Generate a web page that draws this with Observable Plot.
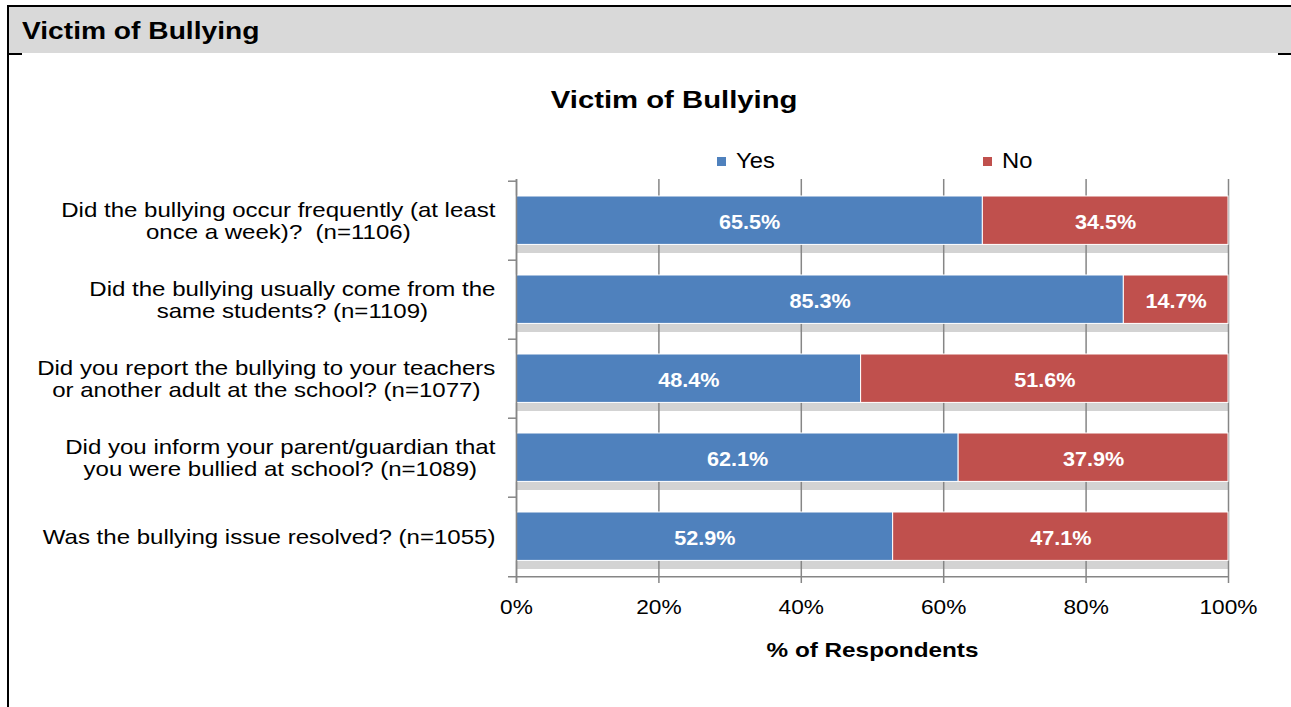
<!DOCTYPE html>
<html>
<head>
<meta charset="utf-8">
<script src="https://cdn.jsdelivr.net/npm/d3@7"></script>
<script src="https://cdn.jsdelivr.net/npm/@observablehq/plot@0.6"></script>
<style>
  body { margin: 0; background: #fff; font-family: "Liberation Sans", Arial, sans-serif; }
  #wrap { position: relative; width: 1291px; height: 707px; overflow: hidden; background: #fff; }
  .abs { position: absolute; }
  #band { left: 9px; top: 7px; width: 1282px; height: 46px; background: #d9d9d9; }
  #topline { left: 7px; top: 5px; width: 1284px; height: 2px; background: #000; }
  #leftline { left: 7px; top: 5px; width: 2px; height: 702px; background: #000; }
  #lstub { left: 7px; top: 53px; width: 15px; height: 2px; background: #000; }
  #rstub { left: 1278px; top: 53px; width: 13px; height: 2px; background: #000; }
  #header { left: 22px; top: 19px; font-size: 24px; line-height: 24px; font-weight: bold; color: #000; white-space: nowrap; }
  #header span { display: inline-block; transform: scaleX(1.174); transform-origin: left center; }
  #title { left: 0; width: 1349px; text-align: center; top: 88px; font-size: 24px; line-height: 24px; font-weight: bold; color: #000; white-space: nowrap; }
  #title span { display: inline-block; transform: scaleX(1.22); transform-origin: center center; }
  .sw { width: 9px; height: 9px; top: 157px; }
  .lt { top: 150px; font-size: 22px; line-height: 22px; color: #000; white-space: nowrap; transform: scaleX(1.08); transform-origin: left center; }
  #chart { left: 0; top: 170px; }
</style>
</head>
<body>
<div id="wrap">
  <div id="band" class="abs"></div>
  <div id="topline" class="abs"></div>
  <div id="leftline" class="abs"></div>
  <div id="lstub" class="abs"></div>
  <div id="rstub" class="abs"></div>
  <div id="header" class="abs"><span>Victim of Bullying</span></div>
  <div id="title" class="abs"><span>Victim of Bullying</span></div>
  <div id="legend"></div>
  <div id="chart" class="abs"></div>
</div>
<script>
// ---- data ----
const categories = [
  "Did the bullying occur frequently (at least\nonce a week)?  (n=1106)",
  "Did the bullying usually come from the\nsame students? (n=1109)",
  "Did you report the bullying to your teachers\nor another adult at the school? (n=1077)",
  "Did you inform your parent/guardian that\nyou were bullied at school? (n=1089)",
  "Was the bullying issue resolved? (n=1055)"
];
const yesValues = [65.5, 85.3, 48.4, 62.1, 52.9];
const noValues = [34.5, 14.7, 51.6, 37.9, 47.1];
const answers = ["Yes", "No"];
const answerColors = ["#4f81bd", "#c0504d"];
const xTicks = [0, 20, 40, 60, 80, 100];
const xTickLabels = ["0%", "20%", "40%", "60%", "80%", "100%"];
const xLabel = "% of Respondents";

// ---- legend (HTML, above the SVG) ----
const legendPos = [{sw: 717, tx: 736}, {sw: 983, tx: 1002}];
const legend = document.getElementById("legend");
answers.forEach((a, i) => {
  const s = document.createElement("div");
  s.className = "abs sw";
  s.style.left = legendPos[i].sw + "px";
  s.style.background = answerColors[i];
  legend.appendChild(s);
  const t = document.createElement("div");
  t.className = "abs lt";
  t.style.left = legendPos[i].tx + "px";
  t.textContent = a;
  legend.appendChild(t);
});

// ---- chart ----
const table = categories.flatMap((c, i) => [
  {cat: c, answer: answers[0], value: yesValues[i]},
  {cat: c, answer: answers[1], value: noValues[i]}
]);

const W = 1291, H = 537;
const mL = 516, mR = 63, mT = 9, mB = 130;
const plotW = W - mL - mR, plotH = H - mT - mB;
const halfBand = plotH / categories.length / 2;
const gray = "#868686";
const FONT = "'Liberation Sans', Arial, sans-serif";

const catFont = 21, catScale = 1.145, catGap = 21;
const tickScale = 1.08, axisTitleScale = 1.215, barLabelScale = 1.03;

// measure label widths so multi-line labels are centred as a block, right-aligned to the axis
const ctx = document.createElement("canvas").getContext("2d");
ctx.font = `${catFont}px ${FONT}`;
const catWidth = c => Math.max(...c.split("\n").map(l => ctx.measureText(l).width)) * catScale;

const catMarks = categories.map(c =>
  Plot.text([c], {y: d => d, text: d => d, frameAnchor: "left", textAnchor: "middle",
    dx: -(catGap + catWidth(c) / 2), fontSize: catFont, lineHeight: 1.05, fill: "#000"})
);

const chart = Plot.plot({
  width: W,
  height: H,
  marginLeft: mL,
  marginRight: mR,
  marginTop: mT,
  marginBottom: mB,
  style: {fontFamily: FONT, background: "transparent", overflow: "visible"},
  x: {domain: [0, 100], axis: null},
  y: {domain: categories, padding: 0, axis: null},
  color: {domain: answers, range: answerColors},
  marks: [
    // shadow under each bar
    Plot.barX(categories, {y: d => d, x1: xTicks[0], x2: xTicks[xTicks.length - 1], fill: "#d3d3d3", insetTop: 64, insetBottom: 7}),
    // vertical gridlines
    Plot.ruleX(xTicks, {x: d => d, stroke: gray, strokeWidth: 1.5}),
    // stacked bars
    Plot.barX(table, Plot.stackX({y: "cat", x: "value", fill: "answer", insetTop: 15, insetBottom: 15.6, stroke: "white", strokeWidth: 1})),
    // bar value labels  (text mark #0)
    Plot.text(table, Plot.stackX({y: "cat", x: "value", text: d => d.value.toFixed(1) + "%", fill: "white", fontWeight: "bold", fontSize: 21, dy: 1})),
    // y axis line
    Plot.ruleX([xTicks[0]], {x: d => d, stroke: gray, strokeWidth: 1.5, insetBottom: -6}),
    // y axis boundary ticks
    Plot.ruleY(categories, {y: d => d, dy: -halfBand, stroke: gray, strokeWidth: 1.5, insetLeft: -8, insetRight: plotW}),
    Plot.ruleY([categories[categories.length - 1]], {y: d => d, dy: halfBand, stroke: gray, strokeWidth: 1.5, insetLeft: -8}),
    // x tick marks
    Plot.ruleX(xTicks, {x: d => d, stroke: gray, strokeWidth: 1.5, insetTop: plotH, insetBottom: -6}),
    // x tick labels  (text mark #1)
    Plot.text(xTicks, {x: d => d, text: (d, i) => xTickLabels[i], frameAnchor: "bottom", dy: 36, fontSize: 21, fill: "#000"}),
    // x axis title  (text mark #2)
    Plot.text([xLabel], {text: d => d, frameAnchor: "bottom", dy: 79, fontSize: 20, fontWeight: "bold", fill: "#000"}),
    // category labels  (text marks #3..)
    ...catMarks
  ]
});

// widen glyphs horizontally to match the reference's rendering
function stretchGroup(g, s) {
  g.querySelectorAll("text").forEach(t => {
    let tr = t.getAttribute("transform") || "";
    const x = t.getAttribute("x");
    if (x !== null && isFinite(+x) && +x !== 0) {
      tr += ` translate(${+x},0)`;
      t.removeAttribute("x");
    }
    t.setAttribute("transform", `${tr} scale(${s},1)`);
  });
}
const textGroups = [...chart.querySelectorAll('g[aria-label="text"]')];
const groupScales = [barLabelScale, tickScale, axisTitleScale, ...categories.map(() => catScale)];
textGroups.forEach((g, i) => stretchGroup(g, groupScales[i] ?? 1));

document.getElementById("chart").appendChild(chart);
</script>
</body>
</html>
